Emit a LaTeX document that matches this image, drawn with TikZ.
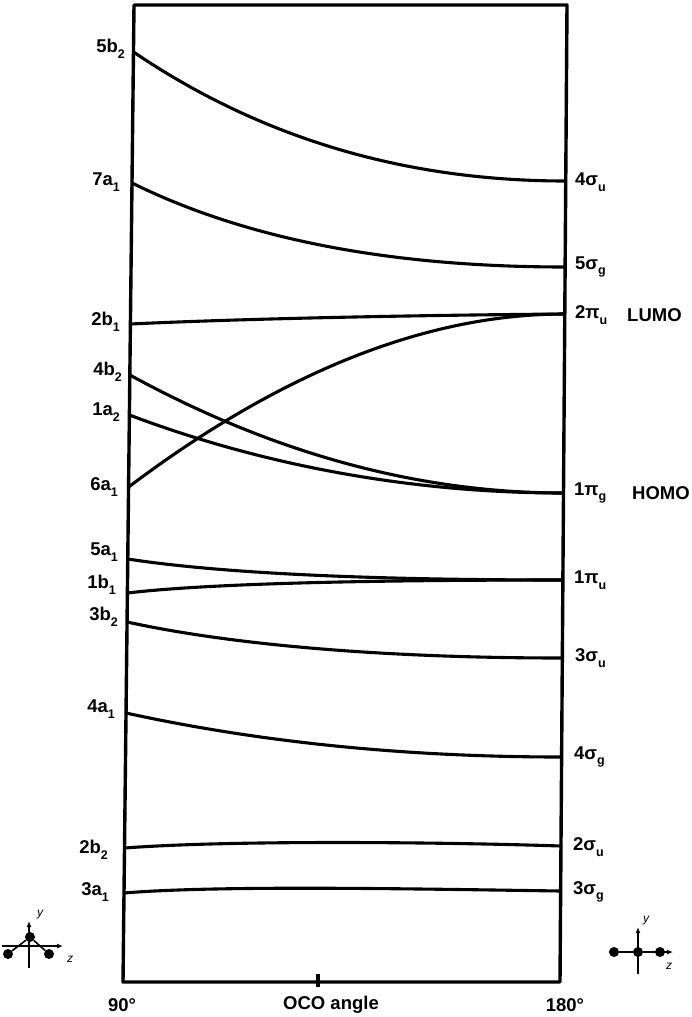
\documentclass[tikz,border=0pt]{standalone}
\usepackage{fontspec}
\setmainfont{Liberation Sans}
\usetikzlibrary{arrows.meta}
\newcommand{\sbs}[1]{\raisebox{-0.3em}{\fontsize{12.5}{12.5}\selectfont #1}}
\begin{document}
\begin{tikzpicture}[x=1pt,y=-1pt,
  mo/.style={line width=3.1pt, line cap=round, line join=round},
  framebox/.style={line width=3.4pt, line join=round},
  lab/.style={font=\fontsize{18.5}{18.5}\selectfont\bfseries, inner sep=0pt},
  axlab/.style={font=\fontsize{12}{12}\selectfont\itshape, inner sep=0pt},
  thinax/.style={line width=1.4pt, -{Latex[length=6pt,width=5pt]}},
  bond/.style={line width=1.6pt},
  atom/.style={circle, fill=black, inner sep=0pt, minimum size=10pt}]
\useasboundingbox (0,0) rectangle (692,1017);
% frame
\coordinate (TL) at (134,5);
\coordinate (TR) at (567,5);
\coordinate (BR) at (560,982);
\coordinate (BL) at (123,982);
\draw[framebox] (TL) -- (TR) -- (BR) -- (BL) -- cycle;
\coordinate (tickT) at (318,974);
\coordinate (tickB) at (318,987);
\draw[framebox] (tickT) -- (tickB);
% endpoints
\coordinate (L5b2) at (133.5,52);   \coordinate (R4su) at (565.7,181);
\coordinate (L7a1) at (132,183);    \coordinate (R5sg) at (565.1,267);
\coordinate (L2b1) at (130.4,324);  \coordinate (R2pu) at (564.8,314);
\coordinate (L6a1) at (128.6,487);
\coordinate (L4b2) at (129.8,375);  \coordinate (R1pg) at (563.5,493);
\coordinate (L1a2) at (129.4,415);
\coordinate (L5a1) at (127.8,559);  \coordinate (R1pu) at (562.9,580);
\coordinate (L1b1) at (127.4,593);
\coordinate (L3b2) at (127.1,622);  \coordinate (R3su) at (562.3,658);
\coordinate (L4a1) at (126,713);    \coordinate (R4sg) at (561.6,757);
\coordinate (L2b2) at (124.5,848);  \coordinate (R2su) at (561,846);
\coordinate (L3a1) at (124,893);    \coordinate (R3sg) at (560.7,891);
% correlation curves
\draw[mo] (L5b2) .. controls (260.5,138) and (404.6,181) .. (R4su);
\draw[mo] (L7a1) .. controls (245.3,239) and (389.7,267) .. (R5sg);
\draw[mo] (L2b1) .. controls (243.5,318.7) and (408.3,315.3) .. (R2pu);
\draw[mo] (L6a1) .. controls (281.5,371.7) and (426.9,314) .. (R2pu);
\draw[mo] (L4b2) .. controls (273.9,453.7) and (418.8,493) .. (R1pg);
\draw[mo] (L1a2) .. controls (267.1,467) and (415.8,493) .. (R1pg);
\draw[mo] (L5a1) .. controls (218.6,573) and (363.6,580) .. (R1pu);
\draw[mo] (L1b1) .. controls (200.5,584.3) and (345.6,580) .. (R1pu);
\draw[mo] (L3b2) .. controls (237,646) and (392.1,658) .. (R3su);
\draw[mo] (L4a1) .. controls (260,742.3) and (405.6,757) .. (R4sg);
\draw[mo] (L2b2) .. controls (230,840) and (440,842) .. (R2su);
\draw[mo] (L3a1) .. controls (220,885) and (420,889) .. (R3sg);
% left labels
\node[lab, anchor=east] (t5b2) at (125,49) {5b\sbs{2}};
\node[lab, anchor=east] (t7a1) at (120,182) {7a\sbs{1}};
\node[lab, anchor=east] (t2b1) at (120,322) {2b\sbs{1}};
\node[lab, anchor=east] (t4b2) at (122,372) {4b\sbs{2}};
\node[lab, anchor=east] (t1a2) at (120,412) {1a\sbs{2}};
\node[lab, anchor=east] (t6a1) at (118,487) {6a\sbs{1}};
\node[lab, anchor=east] (t5a1) at (118,552) {5a\sbs{1}};
\node[lab, anchor=east] (t1b1) at (116,585) {1b\sbs{1}};
\node[lab, anchor=east] (t3b2) at (118,617) {3b\sbs{2}};
\node[lab, anchor=east] (t4a1) at (115,709) {4a\sbs{1}};
\node[lab, anchor=east] (t2b2) at (108,850) {2b\sbs{2}};
\node[lab, anchor=east] (t3a1) at (109,892) {3a\sbs{1}};
% right labels
\node[lab, anchor=west] (t4su) at (575,182) {4σ\sbs{u}};
\node[lab, anchor=west] (t5sg) at (575,267) {5σ\sbs{g}};
\node[lab, anchor=west] (t2pu) at (575,315) {2π\sbs{u}};
\node[lab, anchor=west] (tLUMO) at (627,315) {LUMO};
\node[lab, anchor=west] (t1pg) at (574,493) {1π\sbs{g}};
\node[lab, anchor=west] (tHOMO) at (632,493) {HOMO};
\node[lab, anchor=west] (t1pu) at (574,580) {1π\sbs{u}};
\node[lab, anchor=west] (t3su) at (575,658) {3σ\sbs{u}};
\node[lab, anchor=west] (t4sg) at (574,757) {4σ\sbs{g}};
\node[lab, anchor=west] (t2su) at (573,847) {2σ\sbs{u}};
\node[lab, anchor=west] (t3sg) at (573,892) {3σ\sbs{g}};
% axis labels
\node[lab] (t90) at (122,1005) {90°};
\node[lab] (tOCO) at (331,1005) {OCO angle};
\node[lab] (t180) at (565,1005) {180°};
% bent molecule (90 deg)
\coordinate (bzs) at (2,946);  \coordinate (bze) at (63,946);
\coordinate (bys) at (29,968); \coordinate (bye) at (29,921);
\draw[thinax] (bzs) -- (bze);
\draw[thinax] (bys) -- (bye);
\node[atom] (bC) at (30,937) {};
\node[atom] (bO1) at (8,954) {};
\node[atom] (bO2) at (49,954) {};
\draw[bond] (bC) -- (bO1);
\draw[bond] (bC) -- (bO2);
\node[axlab] (by) at (40,915) {y};
\node[axlab] (bz) at (70,959) {z};
% linear molecule (180 deg)
\coordinate (lzs) at (609,952); \coordinate (lze) at (673,952);
\coordinate (lys) at (638,974); \coordinate (lye) at (638,927);
\draw[thinax] (lzs) -- (lze);
\draw[thinax] (lys) -- (lye);
\node[atom] (lO1) at (614,952) {};
\node[atom] (lC) at (638,952) {};
\node[atom] (lO2) at (660,952) {};
\draw[bond] (lO1) -- (lC) -- (lO2);
\node[axlab] (ly) at (646,921) {y};
\node[axlab] (lz) at (669,966) {z};
\end{tikzpicture}
\end{document}
